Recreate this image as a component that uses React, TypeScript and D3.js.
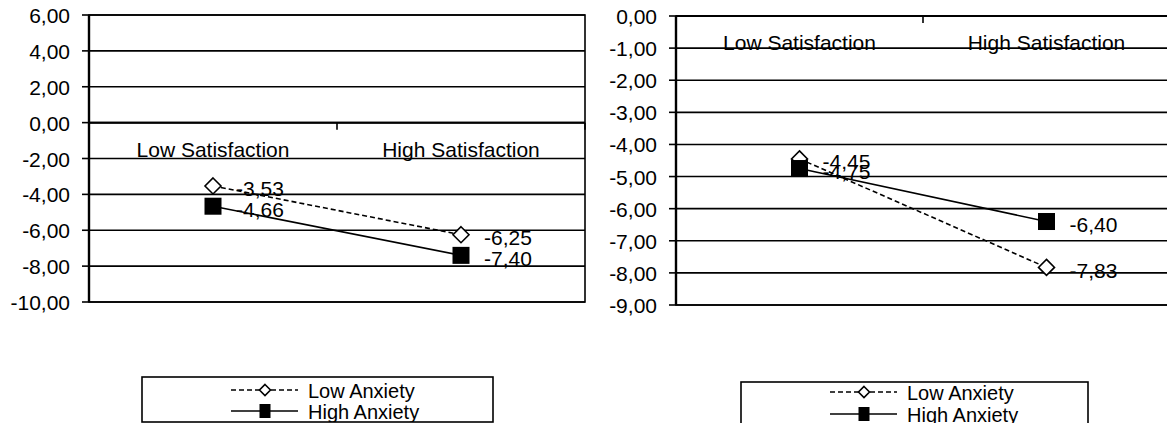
import { useEffect, useRef } from 'react'
import * as d3 from 'd3'

const categories = ['Low Satisfaction', 'High Satisfaction']
const seriesNames = ['Low Anxiety', 'High Anxiety']

// left panel
const leftLowAnxiety = [-3.53, -6.25]
const leftHighAnxiety = [-4.66, -7.4]
const leftTicks = [6, 4, 2, 0, -2, -4, -6, -8, -10]

// right panel
const rightLowAnxiety = [-4.45, -7.83]
const rightHighAnxiety = [-4.75, -6.4]
const rightTicks = [0, -1, -2, -3, -4, -5, -6, -7, -8, -9]

const FONT = '"Liberation Sans", Arial, sans-serif'

const locale = d3.formatLocale({
    decimal: ',',
    thousands: '.',
    grouping: [3],
    currency: ['', ''],
    minus: '-'
})
const fmt = locale.format('.2f')

interface Panel {
    id: string
    x0: number
    x1: number
    y0: number
    y1: number
    ticks: number[]
    low: number[]
    high: number[]
    legend: { x: number; y: number; w: number; h: number; rows: number[] }
}

const panels: Panel[] = [
    {
        id: 'left',
        x0: 89, x1: 585, y0: 15, y1: 302,
        ticks: leftTicks,
        low: leftLowAnxiety,
        high: leftHighAnxiety,
        legend: { x: 142, y: 377, w: 351, h: 45, rows: [390, 411] }
    },
    {
        id: 'right',
        x0: 676, x1: 1170, y0: 16, y1: 305,
        ticks: rightTicks,
        low: rightLowAnxiety,
        high: rightHighAnxiety,
        legend: { x: 741, y: 382, w: 347, h: 48, rows: [392, 414] }
    }
]

function drawPanel(svg: d3.Selection<SVGSVGElement, unknown, null, undefined>, p: Panel) {
    const x = d3.scaleBand<string>()
        .domain(categories)
        .range([p.x0, p.x1])
        .padding(0)

    const y = d3.scaleLinear()
        .domain([d3.min(p.ticks)!, d3.max(p.ticks)!])
        .range([p.y1, p.y0])

    const g = svg.append('g')

    // gridlines
    g.selectAll('.grid')
        .data(p.ticks)
        .enter()
        .append('line')
        .attr('x1', p.x0)
        .attr('x2', p.x1)
        .attr('y1', d => y(d))
        .attr('y2', d => y(d))
        .attr('stroke', '#000')
        .attr('stroke-width', 1.6)

    // plot border
    g.append('rect')
        .attr('x', p.x0)
        .attr('y', p.y0)
        .attr('width', p.x1 - p.x0)
        .attr('height', p.y1 - p.y0)
        .attr('fill', 'none')
        .attr('stroke', '#000')
        .attr('stroke-width', 1.6)

    // y axis
    g.append('line')
        .attr('x1', p.x0).attr('x2', p.x0)
        .attr('y1', p.y0).attr('y2', p.y1)
        .attr('stroke', '#000')
        .attr('stroke-width', 2.4)

    g.selectAll('.ytick')
        .data(p.ticks)
        .enter()
        .append('line')
        .attr('x1', p.x0 - 7)
        .attr('x2', p.x0)
        .attr('y1', d => y(d))
        .attr('y2', d => y(d))
        .attr('stroke', '#000')
        .attr('stroke-width', 1.6)

    g.selectAll('.ylabel')
        .data(p.ticks)
        .enter()
        .append('text')
        .attr('x', p.x0 - 19)
        .attr('y', d => y(d) + 8)
        .attr('text-anchor', 'end')
        .style('font-family', FONT)
        .style('font-size', '21px')
        .text(d => fmt(d))

    // x axis at zero
    const y0 = y(0)
    g.append('line')
        .attr('x1', p.x0).attr('x2', p.x1)
        .attr('y1', y0).attr('y2', y0)
        .attr('stroke', '#000')
        .attr('stroke-width', 2)

    const bounds = [p.x0, ...categories.slice(1).map(c => x(c)!), p.x1]
    g.selectAll('.xtick')
        .data(bounds)
        .enter()
        .append('line')
        .attr('x1', d => d)
        .attr('x2', d => d)
        .attr('y1', y0)
        .attr('y2', y0 + 7)
        .attr('stroke', '#000')
        .attr('stroke-width', 1.6)

    g.selectAll('.xlabel')
        .data(categories)
        .enter()
        .append('text')
        .attr('x', d => x(d)! + x.bandwidth() / 2)
        .attr('y', y0 + 34)
        .attr('text-anchor', 'middle')
        .style('font-family', FONT)
        .style('font-size', '21px')
        .text(d => d)

    const cx = (i: number) => x(categories[i])! + x.bandwidth() / 2

    const line = d3.line<number>()
        .x((d, i) => cx(i))
        .y(d => y(d))

    const series = [
        { name: seriesNames[0], values: p.low, dash: '5,3', marker: 'diamond' },
        { name: seriesNames[1], values: p.high, dash: null, marker: 'square' }
    ]

    series.forEach(s => {
        g.append('path')
            .attr('d', line(s.values))
            .attr('fill', 'none')
            .attr('stroke', '#000')
            .attr('stroke-width', 1.6)
            .attr('stroke-dasharray', s.dash)
    })

    series.forEach(s => {
        s.values.forEach((v, i) => {
            if (s.marker === 'diamond') {
                const r = 8
                g.append('path')
                    .attr('d', `M${cx(i)},${y(v) - r}L${cx(i) + r},${y(v)}L${cx(i)},${y(v) + r}L${cx(i) - r},${y(v)}Z`)
                    .attr('fill', '#fff')
                    .attr('stroke', '#000')
                    .attr('stroke-width', 1.6)
            } else {
                g.append('rect')
                    .attr('x', cx(i) - 8.5)
                    .attr('y', y(v) - 8.5)
                    .attr('width', 17)
                    .attr('height', 17)
                    .attr('fill', '#000')
            }
        })
    })

    series.forEach(s => {
        g.selectAll(null)
            .data(s.values)
            .enter()
            .append('text')
            .attr('x', (d, i) => cx(i) + 23)
            .attr('y', d => y(d) + 10.5)
            .style('font-family', FONT)
            .style('font-size', '21px')
            .text(d => fmt(d))
    })

    // legend
    const lg = p.legend
    const clipId = `clip-${p.id}`
    svg.append('clipPath')
        .attr('id', clipId)
        .append('rect')
        .attr('x', lg.x)
        .attr('y', lg.y)
        .attr('width', lg.w)
        .attr('height', lg.h)

    const legend = svg.append('g')
    legend.append('rect')
        .attr('x', lg.x)
        .attr('y', lg.y)
        .attr('width', lg.w)
        .attr('height', lg.h)
        .attr('fill', '#fff')
        .attr('stroke', '#000')
        .attr('stroke-width', 1.6)

    const items = legend.append('g').attr('clip-path', `url(#${clipId})`)
    const lx0 = lg.x + 89
    const lx1 = lg.x + 156
    const mx = lg.x + 123

    series.forEach((s, i) => {
        const ry = lg.rows[i]
        items.append('line')
            .attr('x1', lx0).attr('x2', lx1)
            .attr('y1', ry).attr('y2', ry)
            .attr('stroke', '#000')
            .attr('stroke-width', 1.6)
            .attr('stroke-dasharray', s.dash)
        if (s.marker === 'diamond') {
            const r = 5.5
            items.append('path')
                .attr('d', `M${mx},${ry - r}L${mx + r},${ry}L${mx},${ry + r}L${mx - r},${ry}Z`)
                .attr('fill', '#fff')
                .attr('stroke', '#000')
                .attr('stroke-width', 1.6)
        } else {
            items.append('rect')
                .attr('x', mx - 5.5)
                .attr('y', ry - 7)
                .attr('width', 11)
                .attr('height', 14)
                .attr('fill', '#000')
        }
        items.append('text')
            .attr('x', lg.x + 166)
            .attr('y', ry + 8)
            .style('font-family', FONT)
            .style('font-size', '20px')
            .text(s.name)
    })
}

export default function App() {
    const svgRef = useRef<SVGSVGElement>(null)

    useEffect(() => {
        if (!svgRef.current) return
        const svg = d3.select(svgRef.current)
        svg.selectAll('*').remove()
        panels.forEach(p => drawPanel(svg, p))
    }, [])

    return (
        <svg
            ref={svgRef}
            width={1167}
            height={423}
            style={{ position: 'absolute', left: 0, top: 0, background: '#fff' }}
        ></svg>
    )
}
